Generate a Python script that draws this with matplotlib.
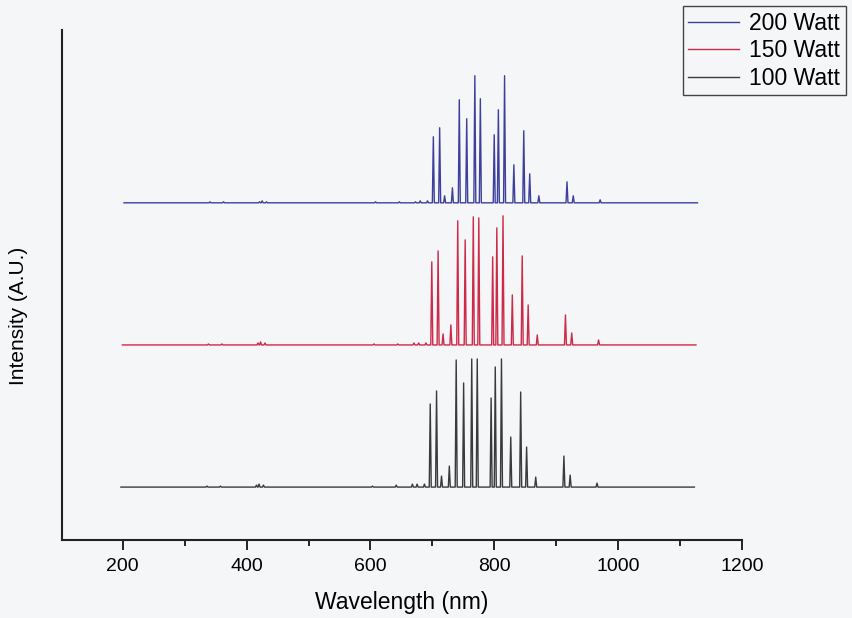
import matplotlib.pyplot as plt
import numpy as np

plt.rcParams['font.family'] = ['Liberation Sans', 'DejaVu Sans']

# Ar emission lines (nm) and peak heights (A.U.) per power
lines_nm = [696.5, 706.7, 714.7, 727.3, 738.4, 750.4, 763.5, 772.4, 794.8,
            801.5, 811.5, 826.5, 842.5, 852.1, 866.8, 912.3, 922.4, 965.8]
h_100 = [83, 96, 11, 21, 127, 104, 128, 128, 89, 120, 128, 50, 95, 40, 10, 31, 12, 4]
h_150 = [83, 94, 11, 20, 124, 105, 128, 127, 88, 117, 129, 50, 89, 40, 10, 30, 12, 5]
h_200 = [66, 75, 7, 15, 103, 84, 127, 104, 68, 93, 127, 38, 72, 29, 7, 21, 7, 3]

# weak background lines in the blue/visible part
weak_nm = [336.0, 357.7, 415.9, 420.1, 427.2, 603.2, 641.6, 667.7, 675.3, 687.1]
weak_100 = [1, 1, 2, 3, 2, 1, 2, 3, 3, 3]
weak_150 = [1, 1, 2, 3, 2, 1, 1, 2, 2, 2]
weak_200 = [1, 1, 1, 2, 1, 1, 1, 1, 2, 2]

wl_start, wl_end = 197, 1123
labels = ['200 Watt', '150 Watt', '100 Watt']
colors = ['#3d3f9c', '#cc2a48', '#3a3a3a']


def spectrum(peaks, heights, weak_h):
    pos = list(peaks) + list(weak_nm)
    hts = list(heights) + list(weak_h)
    order = np.argsort(pos)
    x = [wl_start]
    y = [0]
    for i in order:
        x += [pos[i] - 1.6, pos[i], pos[i] + 1.6]
        y += [0, hts[i], 0]
    x.append(wl_end)
    y.append(0)
    return np.array(x), np.array(y)


fig = plt.figure(figsize=(8.52, 6.18), dpi=100)
fig.patch.set_facecolor('#f5f6f8')
ax = fig.add_axes([0.0728, 0.126, 0.7982, 0.826])
ax.set_facecolor('#f5f6f8')

series = [(h_200, weak_200), (h_150, weak_150), (h_100, weak_100)]
offsets_y = [337, 195, 53]
offsets_x = [5, 2.5, 0]
handles = []
for p in range(3):
    x, y = spectrum(lines_nm, series[p][0], series[p][1])
    ln, = ax.plot(x + offsets_x[p], y + offsets_y[p], color=colors[p], lw=1.0,
                  label=labels[p])
    handles.append(ln)

ax.set_xlim(102, 1200)
ax.set_ylim(0, 510)
ax.set_xticks(np.arange(200, 1201, 200))
ax.set_xticks(np.arange(300, 1200, 200), minor=True)
ax.set_yticks([])
ax.tick_params(axis='x', which='major', length=7, width=1.2, labelsize=14,
               direction='out', pad=6)
ax.tick_params(axis='x', which='minor', length=4, width=1.2, direction='out')
for s in ['top', 'right']:
    ax.spines[s].set_visible(False)
for s in ['left', 'bottom']:
    ax.spines[s].set_linewidth(1.5)
    ax.spines[s].set_color('#222222')

ax.set_xlabel('Wavelength (nm)', fontsize=16.5)
ax.xaxis.set_label_coords(0.5, -0.1)
ax.set_ylabel('Intensity (A.U.)', fontsize=15)
ax.yaxis.set_label_coords(-0.05, 0.44)

leg = fig.legend(handles=handles, loc='upper right', bbox_to_anchor=(0.998, 0.998),
                 fontsize=16.5, frameon=True, fancybox=False, edgecolor='#444444',
                 facecolor='#f5f6f8', framealpha=1, handlelength=2.2,
                 labelspacing=0.2, borderpad=0.25, handletextpad=0.45,
                 borderaxespad=0.2)
leg.get_frame().set_linewidth(1.0)

fig.savefig('out.png', dpi=100, facecolor=fig.get_facecolor())
